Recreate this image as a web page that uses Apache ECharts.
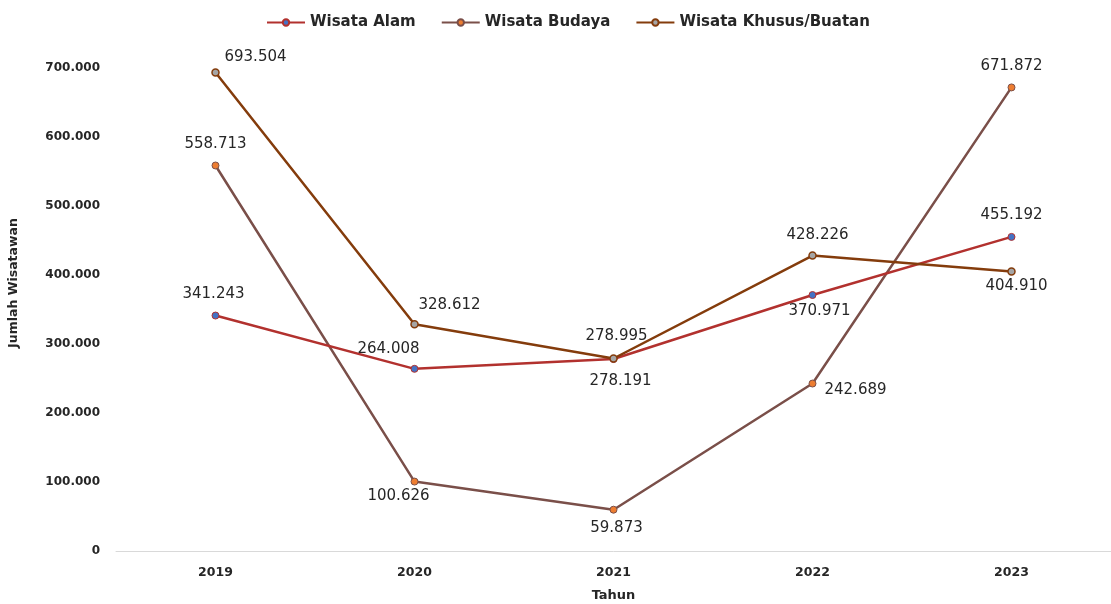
<!DOCTYPE html>
<html>
<head>
<meta charset="utf-8">
<script src="https://cdn.jsdelivr.net/npm/echarts@6/dist/echarts.min.js"></script>
<style>
  html, body { margin: 0; padding: 0; background: #fff; }
  #chart { width: 1111px; height: 604px; }
</style>
</head>
<body>
<div id="chart"></div>
<script>
// data
var years = ['2019', '2020', '2021', '2022', '2023'];
var alam = [341243, 264008, 278191, 370971, 455192];
var budaya = [558713, 100626, 59873, 242689, 671872];
var khusus = [693504, 328612, 278995, 428226, 404910];

// label offsets (centre of text relative to the point)
var alamOff = [[-2, -21], [-26, -20], [7, 22], [7, 16], [0, -22]];
var budayaOff = [[0, -21], [-16, 15], [3, 18], [43, 7], [0, -21]];
var khususOff = [[40, -15], [35, -19], [3, -22], [5, -20], [5, 14]];

var FONT = 'DejaVu Sans';

function fmt(v) {
    return String(v).replace(/\B(?=(\d{3})+(?!\d))/g, '.');
}

function points(vals, offs) {
    return vals.map(function (v, i) {
        return { value: v, label: { offset: offs[i] } };
    });
}

var labelStyle = {
    show: true,
    position: 'inside',
    align: 'center',
    verticalAlign: 'middle',
    fontFamily: FONT,
    fontSize: 15,
    color: '#262626',
    formatter: function (p) { return fmt(p.value); }
};

var myChart = echarts.init(document.getElementById('chart'));
var option = {
    animation: false,
    legend: {
        top: 10,
        left: 261,
        itemGap: 25,
        itemWidth: 38,
        itemHeight: 8,
        textStyle: { fontFamily: FONT, fontWeight: 'bold', fontSize: 15, color: '#262626' },
        data: ['Wisata Alam', 'Wisata Budaya', 'Wisata Khusus/Buatan']
    },
    grid: { left: 116, top: 68, width: 995, height: 483, outerBoundsMode: 'none', containLabel: false },
    graphic: [{
        type: 'text',
        x: 14,
        y: 283,
        rotation: Math.PI / 2,
        style: {
            text: 'Jumlah Wisatawan',
            fontFamily: FONT, fontWeight: 'bold', fontSize: 12.5, fill: '#262626',
            align: 'center', verticalAlign: 'middle'
        }
    }],
    xAxis: {
        type: 'category',
        data: years,
        name: 'Tahun',
        nameLocation: 'middle',
        nameGap: 38,
        nameTextStyle: { fontFamily: FONT, fontWeight: 'bold', fontSize: 13, color: '#262626' },
        axisLine: { lineStyle: { color: '#d9d9d9', width: 1 } },
        axisTick: { show: false },
        axisLabel: { margin: 15, fontFamily: FONT, fontWeight: 'bold', fontSize: 12.5, color: '#262626' }
    },
    yAxis: {
        type: 'value',
        min: 0,
        max: 700000,
        interval: 100000,
        axisLine: { show: false },
        axisTick: { show: false },
        splitLine: { show: false },
        axisLabel: {
            margin: 16,
            fontFamily: FONT, fontWeight: 'bold', fontSize: 12, color: '#262626',
            formatter: function (v) { return fmt(v); }
        }
    },
    series: [
        {
            name: 'Wisata Alam',
            type: 'line',
            data: points(alam, alamOff),
            symbol: 'circle',
            symbolSize: 7,
            lineStyle: { color: '#b2312e', width: 2.5 },
            itemStyle: { color: '#4472c4', borderColor: '#b2312e', borderWidth: 1 },
            label: labelStyle,
            z: 3
        },
        {
            name: 'Wisata Budaya',
            type: 'line',
            data: points(budaya, budayaOff),
            symbol: 'circle',
            symbolSize: 7,
            lineStyle: { color: '#7a4f49', width: 2.5 },
            itemStyle: { color: '#ed7d31', borderColor: '#7a4f49', borderWidth: 1 },
            label: labelStyle,
            z: 2
        },
        {
            name: 'Wisata Khusus/Buatan',
            type: 'line',
            data: points(khusus, khususOff),
            symbol: 'circle',
            symbolSize: 7,
            lineStyle: { color: '#843c0c', width: 2.5 },
            itemStyle: { color: '#a5a5a5', borderColor: '#843c0c', borderWidth: 1.5 },
            label: labelStyle,
            z: 4
        }
    ]
};
myChart.setOption(option);
window.onresize = function () { myChart.resize(); };
</script>
</body>
</html>
